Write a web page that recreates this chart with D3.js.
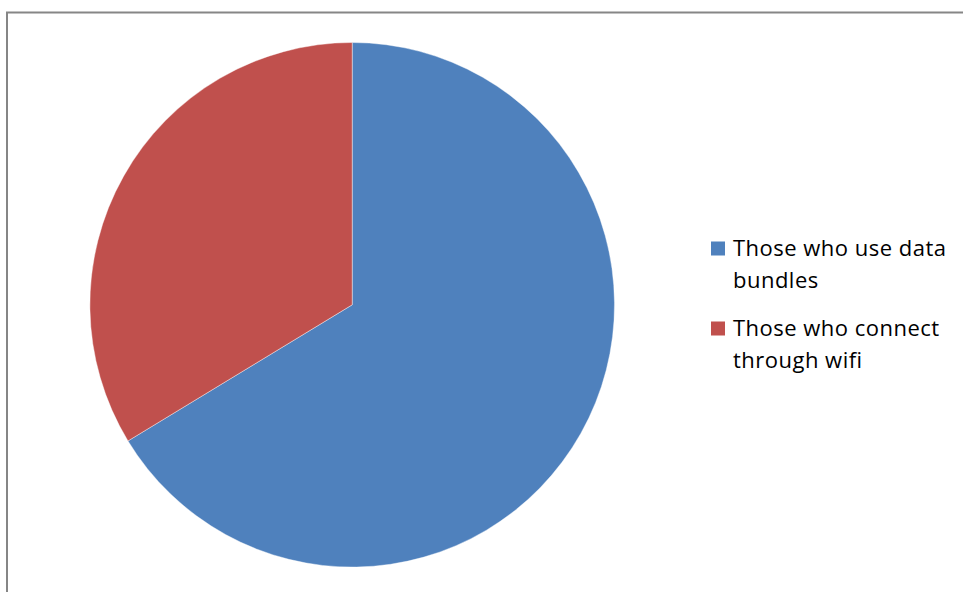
<!DOCTYPE html>
<html><head><meta charset="utf-8">
<script src="https://cdn.jsdelivr.net/npm/d3@7"></script>
<style>html,body{margin:0;padding:0;background:#fff;overflow:hidden}</style>
</head><body>
<svg id="c" width="963" height="592"></svg>
<script>
const categories = ["Those who use data bundles", "Those who connect through wifi"];
const values = [63, 32];
const colors = ["#4F81BD", "#C0504D"];
const legendLines = [["Those who use data", "bundles"], ["Those who connect", "through wifi"]];

const svg = d3.select("#c");
// chart frame
svg.append("rect").attr("x", 7).attr("y", 12.5).attr("width", 1000).attr("height", 700)
  .attr("fill", "#fff").attr("stroke", "#868686").attr("stroke-width", 2);

const cx = 352.2, cy = 304.8, r = 262.3;
const pie = d3.pie().sort(null).value(d => d)(values);
const arc = d3.arc().innerRadius(0).outerRadius(r);
const g = svg.append("g").attr("transform", `translate(${cx},${cy})`);
g.selectAll("path").data(pie).join("path")
  .attr("d", arc).attr("fill", (d, i) => colors[i])
  .attr("stroke", "rgba(255,255,255,0.5)").attr("stroke-width", 0.8);

const color = d3.scaleOrdinal().domain(categories).range(colors);
const lg = svg.append("g").attr("transform", "translate(711,0)");
const texts = [];
categories.forEach((c, i) => {
  const y0 = 256 + i * 80;
  lg.append("rect").attr("x", 0).attr("y", y0 - 14.5).attr("width", 14).attr("height", 14).attr("fill", color(c));
  const t = lg.append("text").attr("x", 22).attr("y", y0)
    .attr("font-family", "'Open Sans', sans-serif").attr("font-size", 22).attr("fill", "#000")
    .style("font-variant-ligatures", "none");
  legendLines[i].forEach((ln, j) => {
    t.append("tspan").attr("x", 22).attr("y", y0 + j * 31.5).text(ln);
  });
  texts.push(t);
});
// fit letter spacing so first line spans like the reference (~213px)
const first = texts[0].select("tspan").node();
const w = first.getComputedTextLength();
const ls = (213 - w) / ("Those who use data".length - 1);
texts.forEach(t => t.attr("letter-spacing", ls));
</script>
</body></html>
